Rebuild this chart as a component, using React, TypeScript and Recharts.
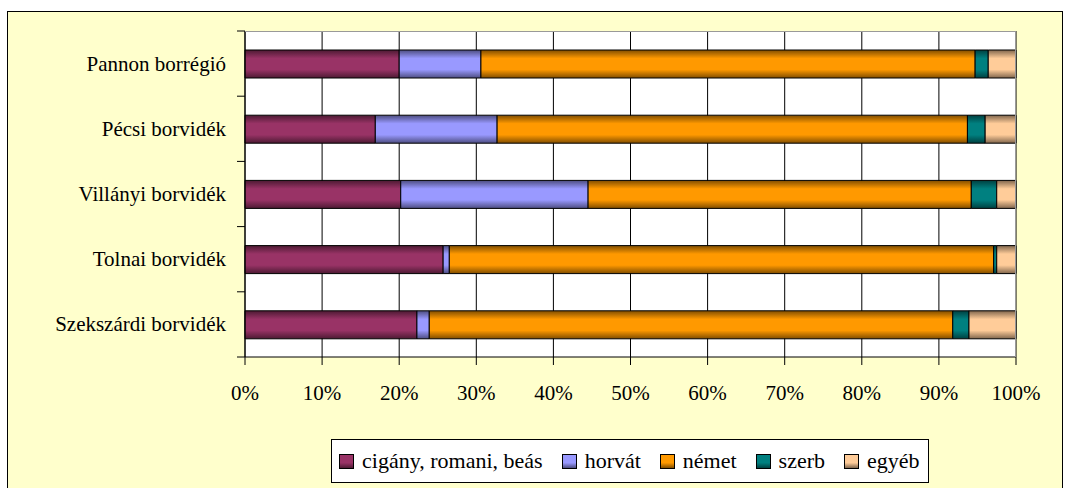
import { BarChart, Bar, XAxis, YAxis, CartesianGrid } from "recharts";

const regions = ["Pannon borrégió", "Pécsi borvidék", "Villányi borvidék", "Tolnai borvidék", "Szekszárdi borvidék"];
const cigany = [20.0, 16.9, 20.2, 25.7, 22.3];
const horvat = [10.6, 15.8, 24.3, 0.8, 1.6];
const nemet = [64.1, 61.0, 49.7, 70.6, 67.9];
const szerb = [1.7, 2.3, 3.3, 0.4, 2.1];
const egyeb = [3.6, 4.0, 2.5, 2.5, 6.1];
const xTicks = [0, 10, 20, 30, 40, 50, 60, 70, 80, 90, 100];

const series = [
  { key: "cigany", name: "cigány, romani, beás", color: "#993366", dark: "#4d1a33" },
  { key: "horvat", name: "horvát", color: "#9999FF", dark: "#4d4d80" },
  { key: "nemet", name: "német", color: "#FF9900", dark: "#804d00" },
  { key: "szerb", name: "szerb", color: "#008080", dark: "#004040" },
  { key: "egyeb", name: "egyéb", color: "#FFCC99", dark: "#80664d" },
];

const data = regions.map((r, i) => ({
  region: r,
  cigany: cigany[i],
  horvat: horvat[i],
  nemet: nemet[i],
  szerb: szerb[i],
  egyeb: egyeb[i],
}));

const FONT = "'Liberation Serif', 'Times New Roman', Tinos, 'DejaVu Serif', serif";
const FS = 21;
const BAND = 326 / regions.length;

function RegionTick(props: any) {
  const { x, y, payload, index } = props;
  return (
    <g>
      <text x={x - 19} y={y} dy={7} textAnchor="end" fontSize={FS} fontFamily={FONT} fill="#000">
        {payload.value}
      </text>
      <line x1={x - 8} x2={x} y1={y - BAND / 2} y2={y - BAND / 2} stroke="#000" />
      {index === regions.length - 1 && <line x1={x - 8} x2={x} y1={y + BAND / 2} y2={y + BAND / 2} stroke="#000" />}
    </g>
  );
}

function PctTick(props: any) {
  const { x, y, payload } = props;
  return (
    <g>
      <line x1={x} x2={x} y1={y - 8} y2={y} stroke="#000" />
      <text x={x} y={y + 35} textAnchor="middle" fontSize={FS} fontFamily={FONT} fill="#000">
        {`${payload.value}%`}
      </text>
    </g>
  );
}

export default function App() {
  return (
    <div style={{ position: "absolute", left: 0, top: 0, width: 1069, height: 488, overflow: "hidden", background: "#fff" }}>
      <div style={{ position: "absolute", left: 7, top: 11, width: 1054, height: 490, background: "#FFFFCC", border: "1px solid #000" }} />
      <div style={{ position: "absolute", left: 0, top: 0 }}>
        <BarChart
          width={1069}
          height={488}
          data={data}
          layout="vertical"
          barSize={28}
          margin={{ top: 31, right: 53, bottom: 101, left: 0 }}
        >
          <defs>
            {series.map((s) => (
              <linearGradient key={s.key} id={`g-${s.key}`} x1="0" y1="0" x2="0" y2="1">
                <stop offset="0%" stopColor={s.dark} />
                <stop offset="30%" stopColor={s.color} />
                <stop offset="70%" stopColor={s.color} />
                <stop offset="100%" stopColor={s.dark} />
              </linearGradient>
            ))}
          </defs>
          <CartesianGrid horizontal={false} vertical stroke="#000" strokeOpacity={1} fill="#fff" fillOpacity={1} />
          <XAxis
            type="number"
            domain={[0, 100]}
            ticks={xTicks}
            axisLine={{ stroke: "#000" }}
            tickLine={false}
            tickSize={0}
            tickMargin={8}
            height={30}
            tick={<PctTick />}
          />
          <YAxis
            type="category"
            dataKey="region"
            width={245}
            axisLine={{ stroke: "#000" }}
            tickLine={false}
            tickSize={0}
            tickMargin={0}
            tick={<RegionTick />}
            interval={0}
          />
          {series.map((s) => (
            <Bar
              key={s.key}
              dataKey={s.key}
              name={s.name}
              stackId="a"
              fill={`url(#g-${s.key})`}
              stroke="#000"
              strokeWidth={1}
              isAnimationActive={false}
            />
          ))}
        </BarChart>
      </div>
      <div style={{ position: "absolute", left: 245, top: 31, width: 770, height: 325, borderTop: "1px solid #999", borderRight: "1px solid #999", pointerEvents: "none" }} />
      <div
        style={{
          position: "absolute",
          left: 331,
          top: 439,
          width: 598,
          height: 44,
          background: "#fff",
          border: "1px solid #000",
          boxSizing: "border-box",
          display: "flex",
          alignItems: "center",
          paddingLeft: 7,
          fontFamily: FONT,
          fontSize: 22,
          color: "#000",
          whiteSpace: "nowrap",
        }}
      >
        {series.map((s) => (
          <span key={s.key} style={{ display: "inline-flex", alignItems: "center", marginRight: 19 }}>
            <span
              style={{
                display: "inline-block",
                width: 13,
                height: 13,
                background: `linear-gradient(${s.color}, ${s.color} 60%, ${s.dark})`,
                border: "1.5px solid #000",
                marginRight: 8,
              }}
            />
            {s.name}
          </span>
        ))}
      </div>
    </div>
  );
}
